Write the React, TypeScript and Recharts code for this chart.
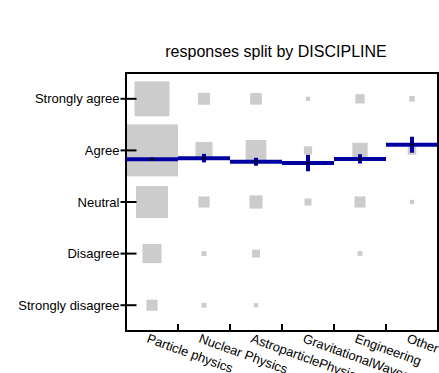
import React from 'react';
import { ScatterChart, Scatter, XAxis, YAxis, ZAxis, ErrorBar, ReferenceArea } from 'recharts';

const disciplines = [
  'Particle physics',
  'Nuclear Physics',
  'AstroparticlePhysics',
  'GravitationalWaves',
  'Engineering',
  'Other',
];

// from bottom (1) to top (5)
const levels = ['Strongly disagree', 'Disagree', 'Neutral', 'Agree', 'Strongly agree'];

// number of answers per level, Strongly disagree -> Strongly agree
const particleCounts = [20, 59, 167, 440, 199];
const nuclearCounts = [4, 4, 20, 47, 23];
const astroCounts = [3, 10, 28, 70, 22];
const gravCounts = [0, 0, 8, 11, 3];
const engineeringCounts = [0, 4, 20, 38, 14];
const otherCounts = [0, 0, 3, 12, 5];

// profile: mean answer and error on the mean per discipline
const meanAnswer = [3.83, 3.85, 3.78, 3.755, 3.835, 4.11];
const meanError = [0.03, 0.083, 0.077, 0.16, 0.09, 0.155];

const allCounts = [particleCounts, nuclearCounts, astroCounts, gravCounts, engineeringCounts, otherCounts];

const boxData = allCounts.flatMap((counts, i) =>
  counts.map((n, j) => ({ x: i + 0.5, y: j + 1, n }))
);

const meanData = meanAnswer.map((m, i) => ({ x: i + 0.5, y: m, err: meanError[i], half: 0.5 }));

const xTicks = Array.from({ length: 13 }, (_, i) => i * 0.5);

const FONT = '"Liberation Sans", Arial, Helvetica, sans-serif';
const BLUE = '#0000a0';

const Box = (props: any) => {
  const { cx, cy, size, payload } = props;
  if (!payload || payload.n <= 0) return <g />;
  const side = 2 * Math.sqrt(size / Math.PI);
  return <rect x={cx - side / 2} y={cy - side / 2} width={side} height={side} fill="#cccccc" />;
};

const Dot = (props: any) => {
  const { cx, cy } = props;
  return <circle cx={cx} cy={cy} r={1.6} fill="#000" />;
};

const XTick = (props: any) => {
  const { x, y, payload } = props;
  const v = payload.value;
  if (Number.isInteger(v)) {
    if (v === 0 || v === 6) return <g />;
    return <line x1={x} x2={x} y1={y} y2={y - 7} stroke="#000" strokeWidth={2} />;
  }
  const tx = x - 6;
  const ty = y + 11;
  return (
    <text x={tx} y={ty} transform={`rotate(20 ${tx} ${ty})`} fontSize={13} fontFamily={FONT} fill="#000">
      {disciplines[Math.floor(v)]}
    </text>
  );
};

const YTick = (props: any) => {
  const { x, y, payload } = props;
  return (
    <g>
      <line x1={x - 5.5} x2={x + 10.5} y1={y} y2={y} stroke="#000" strokeWidth={2} />
      <text x={x - 6.5} y={y} dy="0.35em" textAnchor="end" fontSize={13} fontFamily={FONT} fill="#000">
        {levels[payload.value - 1]}
      </text>
    </g>
  );
};

export default function App() {
  return (
    <div style={{ position: 'absolute', left: 0, top: 0, width: 439, height: 373, background: '#fff' }}>
      <div
        style={{
          position: 'absolute',
          left: 276,
          top: 43.5,
          transform: 'translateX(-50%)',
          fontFamily: FONT,
          fontSize: 16,
          lineHeight: '16px',
          whiteSpace: 'nowrap',
          color: '#000',
        }}
      >
        responses split by DISCIPLINE
      </div>
      <ScatterChart width={439} height={373} margin={{ top: 73, right: 1, bottom: 0, left: 0 }}>
        <XAxis
          type="number"
          dataKey="x"
          domain={[0, 6]}
          allowDataOverflow
          ticks={xTicks}
          interval={0}
          height={42}
          tickSize={0}
          tickMargin={0}
          tickLine={false}
          axisLine={{ stroke: '#000', strokeWidth: 2 }}
          tick={<XTick />}
        />
        <YAxis
          type="number"
          dataKey="y"
          domain={[0.5, 5.5]}
          allowDataOverflow
          ticks={[1, 2, 3, 4, 5]}
          interval={0}
          width={126}
          tickSize={0}
          tickMargin={0}
          tickLine={false}
          axisLine={{ stroke: '#000', strokeWidth: 2 }}
          tick={<YTick />}
        />
        <ZAxis zAxisId="box" type="number" dataKey="n" range={[0, 2124]} />
        <ZAxis zAxisId="dot" type="number" range={[8, 8]} />
        <ReferenceArea x1={0} x2={6} y1={0.5} y2={5.5} fill="none" stroke="#000" strokeWidth={2} />
        <Scatter data={boxData} zAxisId="box" shape={<Box />} isAnimationActive={false} zIndex={450} />
        <Scatter data={meanData} zAxisId="dot" shape={<Dot />} isAnimationActive={false} zIndex={700}>
          <ErrorBar dataKey="half" direction="x" width={0} stroke={BLUE} strokeWidth={4} isAnimationActive={false} zIndex={650} />
          <ErrorBar dataKey="err" direction="y" width={0} stroke={BLUE} strokeWidth={4} isAnimationActive={false} zIndex={650} />
        </Scatter>
      </ScatterChart>
    </div>
  );
}
